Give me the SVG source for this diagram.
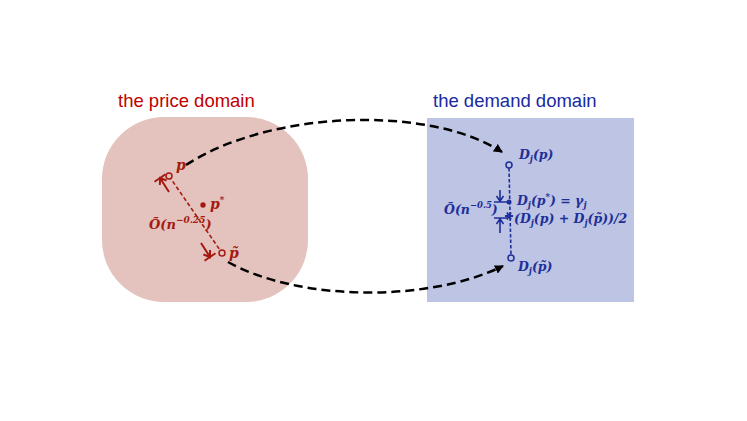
<svg xmlns="http://www.w3.org/2000/svg" width="747" height="421" viewBox="0 0 747 421">
<style>
.title{font-family:"Liberation Sans",Arial,sans-serif;font-size:18.5px}
.m{font-family:"DejaVu Serif","Liberation Serif",serif;font-style:italic;font-weight:bold}
.red{fill:#a51a10}
.blue{fill:#1f2f98}
.sub{font-size:8.5px}
</style>
<defs>
<marker id="ah" markerWidth="9" markerHeight="9" refX="8" refY="4.5" orient="auto" markerUnits="userSpaceOnUse">
<path d="M0,0 L9,4.5 L0,9 Z" fill="#000"/>
</marker>
</defs>
<rect width="747" height="421" fill="#fff"/>
<g id="price-domain">
<rect x="102" y="117" width="206" height="185" rx="62" ry="62" fill="#e4c2bd"/>
<text class="title" x="118" y="107" fill="#c00000">the price domain</text>
</g>
<g id="demand-domain">
<rect x="427" y="118" width="207" height="184" fill="#bdc4e4"/>
<text class="title" x="433" y="107" fill="#1a2aa0">the demand domain</text>
</g>
<g id="connectors" fill="none">
<path d="M186,165 C270,110 430,105 502,152" stroke="#000" stroke-width="2.5" stroke-dasharray="9 5" marker-end="url(#ah)"/>
<path d="M228,262 C300,302 430,302 503,266" stroke="#000" stroke-width="2.5" stroke-dasharray="9 5" marker-end="url(#ah)"/>
</g>
<g id="price-points" stroke="#a51a10" fill="none" stroke-width="1.5">
<line x1="169" y1="176" x2="222" y2="253" stroke-width="1.6" stroke-dasharray="4 2.5"/>
<circle cx="169" cy="176" r="3" fill="#e4c2bd"/>
<circle cx="222" cy="253" r="3" fill="#e4c2bd"/>
<circle cx="203" cy="205" r="2.7" fill="#a51a10" stroke="none"/>
<path d="M169,192 L160,178 M159.9,185 L160,178 L166.6,180.5 M154.5,181.8 L165.5,174.2" stroke-width="2"/>
<path d="M201,243 L210,257 M210,250 L210,257 L203.4,254.5 M204.5,260.8 L215.5,253.2" stroke-width="2"/>
</g>
<g id="price-labels" class="m red">
<text x="176" y="170" font-size="14">p</text>
<text x="210" y="209" font-size="14">p<tspan class="sub" dy="-6">*</tspan></text>
<text x="229" y="258" font-size="14">p̃</text>
<text x="149" y="229" font-size="13">Õ(n<tspan font-size="9" dy="-6">−0.25</tspan><tspan dy="6">)</tspan></text>
</g>
<g id="demand-points" stroke="#1f2f98" fill="none" stroke-width="1.5">
<line x1="509" y1="168" x2="511" y2="255" stroke-width="1.6" stroke-dasharray="3.5 2"/>
<circle cx="509" cy="165" r="3" fill="#bdc4e4"/>
<circle cx="511" cy="258" r="3" fill="#bdc4e4"/>
<circle cx="509" cy="202" r="2.5" fill="#1f2f98" stroke="none"/>
<path d="M505,216 L513,216 M507,212.5 L511,219.5 M507,219.5 L511,212.5" stroke-width="1.8"/>
<path d="M500,190 L500,201 M496.5,196 L500,201 L503.5,196 M494,202 L507,202" stroke-width="1.6"/>
<path d="M500,233 L500,219 M496.5,224 L500,219 L503.5,224 M494,218 L507,218" stroke-width="1.6"/>
</g>
<g id="demand-labels" class="m blue" font-size="12.5">
<text x="519" y="159">D<tspan class="sub" dy="3">j</tspan><tspan dy="-3">(p)</tspan></text>
<text x="517" y="205">D<tspan class="sub" dy="3">j</tspan><tspan dy="-3">(p</tspan><tspan class="sub" dy="-5">*</tspan><tspan dy="5">) = γ</tspan><tspan class="sub" dy="3">j</tspan></text>
<text x="514" y="223">(D<tspan class="sub" dy="3">j</tspan><tspan dy="-3">(p) + D</tspan><tspan class="sub" dy="3">j</tspan><tspan dy="-3">(p̃))/2</tspan></text>
<text x="518" y="271">D<tspan class="sub" dy="3">j</tspan><tspan dy="-3">(p̃)</tspan></text>
<text x="444" y="214">Õ(n<tspan font-size="8.5" dy="-6">−0.5</tspan><tspan dy="6">)</tspan></text>
</g>
</svg>
